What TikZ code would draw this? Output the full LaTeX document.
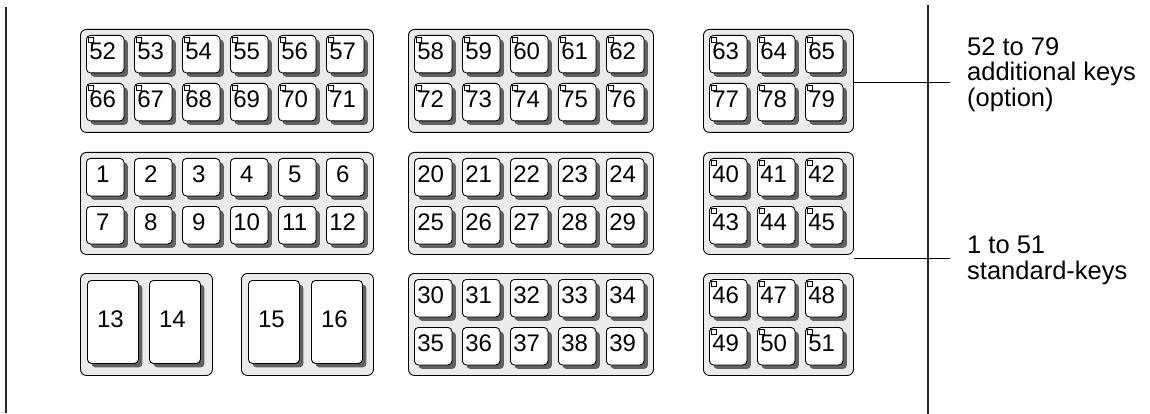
\documentclass[tikz,border=0pt]{standalone}
\usepackage{fontspec}
\setmainfont{Liberation Sans}
\usetikzlibrary{positioning,shadows}

\begin{document}
\begin{tikzpicture}[x=1pt, y=-1pt,
    panel/.style={draw, fill=black!8, rounded corners=6pt, line width=0.9pt, inner sep=0pt, anchor=north west},
    keycap/.style={draw, fill=white, rounded corners=4pt, line width=0.9pt, inner sep=0pt, anchor=north west,
      minimum width=37.5pt, minimum height=37.5pt, font=\fontsize{24}{24}\selectfont,
      text depth=5.5pt, execute at begin node={\hspace*{-5pt}},
      drop shadow={shadow xshift=4pt, shadow yshift=-4pt, fill=black!62, opacity=1}},
    bigkey/.style={keycap, minimum width=51pt, minimum height=83pt},
    keymark/.style={draw, line width=0.7pt},
    note/.style={align=left, anchor=north west, inner sep=0pt, font=\fontsize{25.5}{25.5}\selectfont}]
    \useasboundingbox (0,0) rectangle (1150,414);

    % key panels
    \node[panel, minimum width=293pt, minimum height=103pt] (pA1) at (80,29) {};
    \node[panel, minimum width=245pt, minimum height=103pt] (pB1) at (408,29) {};
    \node[panel, minimum width=150pt, minimum height=103pt] (pC1) at (703,29) {};
    \node[panel, minimum width=293pt, minimum height=102pt] (pA2) at (80,152) {};
    \node[panel, minimum width=245pt, minimum height=102pt] (pB2) at (408,152) {};
    \node[panel, minimum width=150pt, minimum height=102pt] (pC2) at (703,152) {};
    \node[panel, minimum width=132pt, minimum height=102pt] (pD3) at (80,273) {};
    \node[panel, minimum width=132pt, minimum height=102pt] (pE3) at (241,273) {};
    \node[panel, minimum width=245pt, minimum height=102pt] (pB3) at (408,273) {};
    \node[panel, minimum width=150pt, minimum height=102pt] (pC3) at (703,273) {};

    % small keys, one row at a time
    \foreach \first/\last/\xo/\yo in {52/57/86/35, 66/71/86/83, 58/62/414/35, 72/76/414/83,
        63/65/709/35, 77/79/709/83, 1/6/86/158, 7/12/86/206, 20/24/414/158, 25/29/414/206,
        40/42/709/158, 43/45/709/206, 30/34/414/279, 35/39/414/327, 46/48/709/279, 49/51/709/327}
      \foreach \n [count=\i from 0] in {\first,...,\last}
        \node[keycap] (k\n) at ({\xo+48*\i},\yo) {\n};

    % large keys
    \node[bigkey] (k13) at (87,280) {13};
    \node[bigkey] (k14) at (149,280) {14};
    \node[bigkey] (k15) at (248,280) {15};
    \node[bigkey] (k16) at (311,280) {16};

    % marks on the option keys and on 40 to 51
    \foreach \n in {52,...,79}
      \path[keymark] ([shift={(2.5,2.5)}]k\n.north west) rectangle ++(4.5,4.5);
    \foreach \n in {40,...,51}
      \path[keymark] ([shift={(2.5,2.5)}]k\n.north west) rectangle ++(4.5,4.5);

    % frame lines
    \coordinate (ltop) at (6,7);
    \coordinate (lbot) at (6,413);
    \coordinate (rtop) at (928,5);
    \coordinate (rbot) at (928,414);
    \draw[line width=1.3pt, black!85] (ltop) -- (lbot);
    \draw[line width=1.3pt, black!85] (rtop) -- (rbot);

    % labels
    \node[note] (optnote) at (967,37) {52 to 79\\additional keys\\(option)};
    \node[note] (stdnote) at (967,236) {1 to 51\\standard-keys};
    \coordinate (optend) at (950,83);
    \coordinate (stdend) at (950,258);
    \draw[line width=1pt] (pC1.east |- optend) -- (optend);
    \draw[line width=1pt] (pC2.east |- stdend) -- (stdend);
  \end{tikzpicture}
\end{document}
